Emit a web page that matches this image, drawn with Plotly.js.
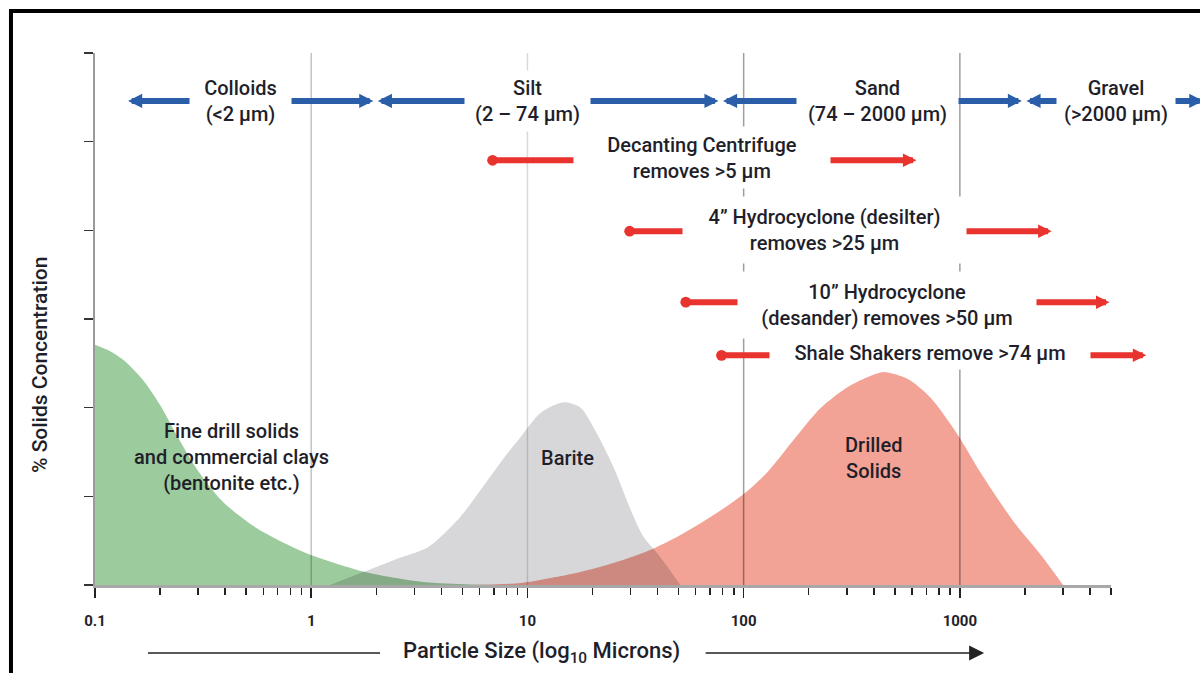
<!DOCTYPE html>
<html>
<head>
<meta charset="utf-8">
<script src="https://cdn.plot.ly/plotly-3.0.1.min.js"></script>
<style>
html,body{margin:0;padding:0;background:#fff;}
#chart{width:1200px;height:673px;}
</style>
</head>
<body>
<div id="chart"></div>
<script>
// ---------------- DATA ----------------
// Fine drill solids and commercial clays
const fineSize = [0.1, 0.117, 0.135, 0.167, 0.2, 0.24, 0.297, 0.39, 0.56, 0.8, 0.99, 1.63, 2.32, 3.3, 5.45, 10];
const fineConc = [2.71, 2.64, 2.54, 2.31, 2.03, 1.68, 1.30, 0.94, 0.64, 0.44, 0.34, 0.17, 0.09, 0.034, 0.006, 0];
// Barite
const bariteSize = [1.22, 1.69, 2.4, 3.44, 3.96, 4.9, 6.06, 7.5, 9.3, 11.5, 14.7, 17.6, 20.2, 25, 30, 34.5, 41, 51];
const bariteConc = [0, 0.135, 0.28, 0.42, 0.54, 0.77, 1.07, 1.38, 1.67, 1.94, 2.06, 2.0, 1.78, 1.33, 0.85, 0.54, 0.32, 0];
// Drilled solids
const drilledSize = [5.4, 9.3, 12.8, 17.6, 25, 36, 51, 72.6, 100, 129, 170, 227, 303, 385, 445, 574, 734, 979, 1250, 1778, 2371, 3000];
const drilledConc = [0, 0.023, 0.08, 0.147, 0.248, 0.383, 0.564, 0.789, 1.026, 1.274, 1.635, 1.996, 2.233, 2.357, 2.402, 2.323, 2.109, 1.692, 1.263, 0.711, 0.338, 0];

// Particle size classes (blue double arrows)
const classNames = ['Colloids', 'Silt', 'Sand', 'Gravel'];
const classRanges = ['(<2 µm)', '(2 – 74 µm)', '(74 – 2000 µm)', '(>2000 µm)'];
const classLow = [0.14, 2, 79, 2000];
const classHigh = [2, 79, 2000, 13800];

// Solids-control equipment (red arrows)
const equipLabels = ['Decanting Centrifuge<br>removes >5 µm', '4” Hydrocyclone (desilter)<br>removes >25 µm',
                     '10” Hydrocyclone<br>(desander) removes >50 µm', 'Shale Shakers remove >74 µm'];
const equipFrom = [6.9, 29.7, 54, 79];
const equipTo = [640, 2700, 5000, 7400];

// Curve labels
const curveLabels = ['Fine drill solids<br>and commercial clays<br>(bentonite etc.)', 'Barite', 'Drilled<br>Solids'];

// Axis ticks
const majorTicks = [0.1, 1, 10, 100, 1000];
const majorTickText = ['0.1', '1', '10', '100', '1000'];
const minorTicks = [0.2,0.3,0.4,0.5,0.6,0.7,0.8,0.9, 2,3,4,5,6,7,8,9, 20,30,40,50,60,70,80,90,
                    200,300,400,500,600,700,800,900, 2000,3000,4000,5000];
const yTicks = [0, 1, 2, 3, 4, 5, 6];
const gridVals = [1, 10, 100, 1000];

// ---------------- STYLE / LAYOUT ----------------
const FONT = 'Roboto, "Open Sans", sans-serif';
const TXT = '#1f1f2b';
const BLUE = '#2b5ea8';
const RED = '#e8332f';
const gridColors = ['#c4c4c4', '#d9d9d9', '#9e9e9e', '#9e9e9e'];
const LBL = {family:FONT, size:20, color:TXT, weight:500};

// layout-only positions (paper / data-y) for labels
const classArrowY = 5.46;
const classBox = [{x:0.1437,w:101},{x:0.4256,w:125},{x:0.7701,w:161},{x:1.0049,w:118}];
const equipArrowY = [4.79, 3.99, 3.19, 2.59];
const equipBox = [{x:0.5975,y:0.8036,w:256,h:61},{x:0.7180,y:0.6673,w:283,h:66},
                  {x:0.7795,y:0.5263,w:298,h:66},{x:0.8219,y:0.4370,w:320,h:33}];
const curveLabelPos = [{x:0.1339,y:0.2406},{x:0.4646,y:0.2387},{x:0.7658,y:0.2387}];

const traces = [];
gridVals.forEach((g, i) => {
  traces.push({x:[g, g], y:[yTicks[0], yTicks[yTicks.length-1]], mode:'lines',
    line:{color:gridColors[i], width:1.5}, hoverinfo:'skip', showlegend:false});
});
[[fineSize, fineConc, '#9ccb9d'], [bariteSize, bariteConc, '#d7d7da'], [drilledSize, drilledConc, '#f3a396']]
  .forEach(([xs, ys, c]) => {
    traces.push({x:xs, y:ys, mode:'lines', fill:'tozeroy', fillcolor:c,
      line:{width:0, shape:'spline', smoothing:0.8, color:c}, hoverinfo:'skip', showlegend:false});
  });

const annotations = [];
// blue class arrows
classLow.forEach((lo, i) => {
  annotations.push({xref:'x', yref:'y', axref:'x', ayref:'y',
    x:Math.log10(lo), y:classArrowY, ax:Math.log10(classHigh[i]), ay:classArrowY,
    text:'', showarrow:true, arrowside:'end+start', arrowhead:2, startarrowhead:2,
    arrowsize:0.47, startarrowsize:0.47, arrowwidth:6, arrowcolor:BLUE, standoff:1.5, startstandoff:1.5});
});
// red equipment arrows
equipFrom.forEach((lo, i) => {
  annotations.push({xref:'x', yref:'y', axref:'x', ayref:'y',
    x:Math.log10(lo), y:equipArrowY[i], ax:Math.log10(equipTo[i]), ay:equipArrowY[i],
    text:'', showarrow:true, arrowside:'end+start', arrowhead:6, startarrowhead:2,
    arrowsize:0.45, startarrowsize:0.45, arrowwidth:6, arrowcolor:RED, standoff:0, startstandoff:0});
});
// class labels (white boxes break the arrows)
classNames.forEach((n, i) => {
  annotations.push({xref:'paper', yref:'y', x:classBox[i].x, y:classArrowY, xanchor:'center', yanchor:'middle',
    text:n + '<br>' + classRanges[i],
    showarrow:false, bgcolor:'#ffffff', borderpad:0, width:classBox[i].w, height:60, font:LBL});
});
equipLabels.forEach((t, i) => {
  annotations.push({xref:'paper', yref:'paper', x:equipBox[i].x, y:equipBox[i].y, xanchor:'center', yanchor:'middle',
    text:t, showarrow:false, bgcolor:'#ffffff', borderpad:0, width:equipBox[i].w, height:equipBox[i].h, font:LBL});
});
curveLabels.forEach((t, i) => {
  annotations.push({xref:'paper', yref:'paper', x:curveLabelPos[i].x, y:curveLabelPos[i].y, xanchor:'center', yanchor:'middle',
    text:t, showarrow:false, font:LBL});
});
// axis titles
annotations.push({xref:'paper', yref:'paper', x:-0.0541, y:0.4135, xanchor:'center', yanchor:'middle',
  text:'% Solids Concentration', textangle:-90, showarrow:false, font:{family:FONT, size:21, color:TXT, weight:500}});
annotations.push({xref:'paper', yref:'paper', x:0.4399, y:-0.1278, xanchor:'center', yanchor:'middle',
  text:'Particle Size (log<sub>10</sub> Microns)', showarrow:false, font:{family:FONT, size:22, color:TXT, weight:500}});
annotations.push({xref:'paper', yref:'paper', x:0.8751, y:-0.1278, text:'', showarrow:true,
  ax:-280, ay:0, arrowhead:2, arrowsize:2, arrowwidth:1.5, arrowcolor:'#222', standoff:0});

const shapes = [
  {type:'line', xref:'paper', yref:'paper', x0:0.0522, x1:0.2805, y0:-0.1278, y1:-0.1278, line:{color:'#222', width:1.5}},
  {type:'line', xref:'paper', yref:'paper', x0:-0.0846, x1:1.09, y0:1.0789, y1:1.0789, line:{color:'#000', width:4}},
  {type:'line', xref:'paper', yref:'paper', x0:-0.0827, x1:-0.0827, y0:1.0827, y1:-0.17, line:{color:'#000', width:4}}
];

const layout = {
  width:1200, height:673,
  margin:{l:95, r:89, t:53, b:88},
  paper_bgcolor:'#ffffff', plot_bgcolor:'#ffffff',
  showlegend:false,
  xaxis:{type:'log', range:[-1, Math.log10(5000)], tickmode:'array', tickvals:majorTicks, ticktext:majorTickText,
    ticks:'outside', ticklen:10, tickwidth:1.5, tickcolor:'#222', showline:true, linecolor:'#a8a8a8', linewidth:2.5,
    showgrid:false, zeroline:false, ticklabelstandoff:10,
    tickfont:{family:FONT, size:15, color:TXT, weight:'bold'},
    minor:{tickmode:'array', tickvals:minorTicks, ticks:'outside', ticklen:7, tickwidth:1.5, tickcolor:'#222', showgrid:false},
    fixedrange:true},
  yaxis:{range:[0, 6], tickmode:'array', tickvals:yTicks, showticklabels:false, ticks:'outside', ticklen:9,
    tickwidth:1.5, tickcolor:'#333', showline:true, linecolor:'#9a9a9a', linewidth:2, showgrid:false, zeroline:false,
    fixedrange:true},
  annotations:annotations,
  shapes:shapes
};

function blend(){
  document.querySelectorAll('#chart .scatterlayer .js-fill').forEach(p => { p.style.mixBlendMode = 'multiply'; });
}
const gd = document.getElementById('chart');
Plotly.newPlot(gd, traces, layout, {staticPlot:true, displayModeBar:false}).then(() => {
  blend();
  gd.on && gd.on('plotly_afterplot', blend);
});
</script>
</body>
</html>
